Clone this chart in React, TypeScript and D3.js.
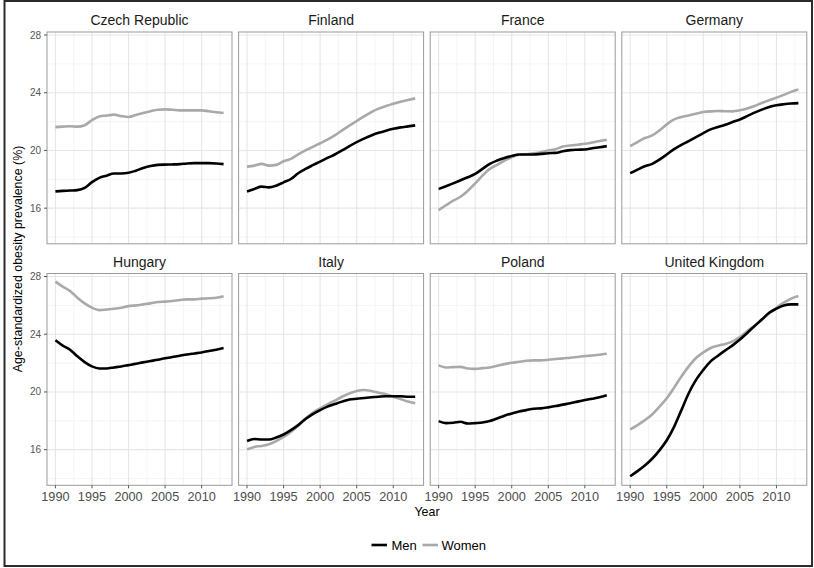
import React from "react";
import * as d3 from "d3";

const years = d3.range(1990, 2014);
const countries = ["Czech Republic", "Finland", "France", "Germany", "Hungary", "Italy", "Poland", "United Kingdom"];

const czechMen = [17.16, 17.2, 17.22, 17.25, 17.4, 17.8, 18.1, 18.25, 18.4, 18.4, 18.45, 18.6, 18.78, 18.92, 19.0, 19.02, 19.03, 19.05, 19.1, 19.12, 19.12, 19.12, 19.1, 19.05];
const czechWomen = [21.62, 21.65, 21.68, 21.65, 21.75, 22.1, 22.35, 22.42, 22.48, 22.38, 22.32, 22.45, 22.6, 22.72, 22.82, 22.85, 22.82, 22.78, 22.78, 22.78, 22.78, 22.72, 22.65, 22.6];
const finlandMen = [17.16, 17.33, 17.49, 17.44, 17.56, 17.79, 18.02, 18.42, 18.72, 18.98, 19.23, 19.48, 19.72, 20.0, 20.3, 20.58, 20.82, 21.04, 21.22, 21.37, 21.5, 21.6, 21.67, 21.74];
const finlandWomen = [18.88, 18.95, 19.07, 18.95, 19.0, 19.25, 19.42, 19.72, 20.0, 20.25, 20.5, 20.75, 21.04, 21.39, 21.72, 22.04, 22.36, 22.66, 22.9, 23.08, 23.24, 23.38, 23.5, 23.61];
const franceMen = [17.33, 17.52, 17.72, 17.93, 18.14, 18.37, 18.72, 19.07, 19.3, 19.48, 19.62, 19.72, 19.72, 19.72, 19.76, 19.81, 19.83, 19.95, 20.02, 20.05, 20.07, 20.15, 20.22, 20.3];
const franceWomen = [15.87, 16.2, 16.52, 16.79, 17.21, 17.72, 18.26, 18.72, 19.0, 19.3, 19.53, 19.7, 19.74, 19.8, 19.88, 20.0, 20.09, 20.27, 20.34, 20.4, 20.46, 20.55, 20.65, 20.74];
const germanyMen = [18.42, 18.67, 18.9, 19.07, 19.37, 19.72, 20.09, 20.39, 20.65, 20.92, 21.2, 21.46, 21.62, 21.78, 21.97, 22.15, 22.38, 22.62, 22.83, 23.01, 23.13, 23.2, 23.25, 23.28];
const germanyWomen = [20.3, 20.58, 20.86, 21.04, 21.39, 21.81, 22.15, 22.32, 22.43, 22.55, 22.66, 22.71, 22.73, 22.72, 22.71, 22.78, 22.9, 23.08, 23.29, 23.48, 23.66, 23.85, 24.06, 24.22];
const hungaryMen = [23.58, 23.21, 22.93, 22.47, 22.07, 21.77, 21.63, 21.63, 21.7, 21.77, 21.86, 21.95, 22.05, 22.14, 22.23, 22.33, 22.42, 22.51, 22.6, 22.67, 22.74, 22.84, 22.93, 23.05];
const hungaryWomen = [27.65, 27.3, 27.0, 26.53, 26.14, 25.84, 25.67, 25.72, 25.77, 25.84, 25.95, 26.0, 26.07, 26.14, 26.23, 26.26, 26.3, 26.37, 26.42, 26.42, 26.47, 26.49, 26.53, 26.63];
const italyMen = [16.6, 16.74, 16.7, 16.7, 16.84, 17.05, 17.35, 17.7, 18.12, 18.47, 18.74, 18.98, 19.16, 19.33, 19.47, 19.53, 19.58, 19.63, 19.67, 19.7, 19.7, 19.7, 19.67, 19.67];
const italyWomen = [16.02, 16.19, 16.26, 16.37, 16.6, 16.88, 17.23, 17.65, 18.16, 18.56, 18.86, 19.14, 19.4, 19.67, 19.9, 20.07, 20.14, 20.07, 19.95, 19.84, 19.67, 19.51, 19.33, 19.21];
const polandMen = [17.98, 17.84, 17.86, 17.93, 17.81, 17.84, 17.88, 17.98, 18.16, 18.35, 18.51, 18.65, 18.74, 18.84, 18.86, 18.93, 19.02, 19.12, 19.21, 19.33, 19.44, 19.53, 19.63, 19.77];
const polandWomen = [21.84, 21.7, 21.72, 21.74, 21.63, 21.6, 21.65, 21.7, 21.81, 21.93, 22.02, 22.09, 22.16, 22.19, 22.19, 22.23, 22.28, 22.33, 22.37, 22.42, 22.49, 22.53, 22.58, 22.65];
const ukMen = [14.16, 14.51, 14.9, 15.37, 15.95, 16.65, 17.58, 18.74, 19.91, 20.84, 21.53, 22.12, 22.51, 22.88, 23.23, 23.63, 24.09, 24.56, 25.02, 25.49, 25.77, 26.0, 26.07, 26.07];
const ukWomen = [17.4, 17.7, 18.05, 18.44, 18.98, 19.56, 20.3, 21.07, 21.77, 22.35, 22.74, 23.05, 23.21, 23.33, 23.51, 23.81, 24.21, 24.6, 25.02, 25.44, 25.84, 26.19, 26.47, 26.65];

const menSeries = [czechMen, finlandMen, franceMen, germanyMen, hungaryMen, italyMen, polandMen, ukMen];
const womenSeries = [czechWomen, finlandWomen, franceWomen, germanyWomen, hungaryWomen, italyWomen, polandWomen, ukWomen];

const xTicks = [1990, 1995, 2000, 2005, 2010];
const xMinor = [1992.5, 1997.5, 2002.5, 2007.5, 2012.5];
const yTicks = [16, 20, 24, 28];
const yMinor = [14, 18, 22, 26];
const seriesNames = ["Men", "Women"];

const W = 814;
const H = 568;
const FONT = "'Liberation Sans', Arial, sans-serif";
const MEN_COLOR = "#000000";
const WOMEN_COLOR = "#a9a9a9";

const panelLeft0 = 47;
const panelStep = 191.6;
const panelW = 185;
const panelTops = [32, 273.5];
const panelH = 211.8;

export default function App() {
  const x = d3.scaleLinear().domain([1988.85, 2014.15]).range([0, panelW]);
  const y = d3.scaleLinear().domain([13.53, 28.21]).range([panelH, 0]);
  const line = d3
    .line<number>()
    .x((_, i) => x(years[i]))
    .y((d) => y(d))
    .curve(d3.curveMonotoneX);

  return (
    <svg
      width={W}
      height={H}
      style={{ position: "absolute", left: 0, top: 0, background: "#fff" }}
      fontFamily={FONT}
    >
      <rect x={0} y={0} width={W} height={H} fill="#fff" />
      <rect x={4.5} y={1} width={807.5} height={565} fill="none" stroke="#2b2b2b" strokeWidth={2} />
      {countries.map((c, idx) => {
        const col = idx % 4;
        const row = Math.floor(idx / 4);
        const px = panelLeft0 + col * panelStep;
        const py = panelTops[row];
        return (
          <g key={c} transform={`translate(${px},${py})`}>
            <text
              x={panelW / 2}
              y={-7}
              textAnchor="middle"
              fontSize={14}
              fill="#1a1a1a"
            >
              {c}
            </text>
            {yMinor.map((t) => (
              <line key={"ym" + t} x1={0} x2={panelW} y1={y(t)} y2={y(t)} stroke="#f1f1f1" strokeWidth={0.8} />
            ))}
            {xMinor.map((t) => (
              <line key={"xm" + t} x1={x(t)} x2={x(t)} y1={0} y2={panelH} stroke="#f1f1f1" strokeWidth={0.8} />
            ))}
            {yTicks.map((t) => (
              <line key={"yg" + t} x1={0} x2={panelW} y1={y(t)} y2={y(t)} stroke="#e6e6e6" strokeWidth={1.1} />
            ))}
            {xTicks.map((t) => (
              <line key={"xg" + t} x1={x(t)} x2={x(t)} y1={0} y2={panelH} stroke="#e6e6e6" strokeWidth={1.1} />
            ))}
            <path d={line(womenSeries[idx]) || ""} fill="none" stroke={WOMEN_COLOR} strokeWidth={2.6} />
            <path d={line(menSeries[idx]) || ""} fill="none" stroke={MEN_COLOR} strokeWidth={2.6} />
            <rect x={0} y={0} width={panelW} height={panelH} fill="none" stroke="#9a9a9a" strokeWidth={1} />
            {col === 0 &&
              yTicks.map((t) => (
                <g key={"yt" + t}>
                  <line x1={-3} x2={0} y1={y(t)} y2={y(t)} stroke="#555" strokeWidth={1} />
                  <text x={-6} y={y(t)} dy="0.35em" textAnchor="end" fontSize={10} fill="#555">
                    {t}
                  </text>
                </g>
              ))}
            {row === 1 &&
              xTicks.map((t) => (
                <g key={"xt" + t}>
                  <line x1={x(t)} x2={x(t)} y1={panelH} y2={panelH + 3} stroke="#555" strokeWidth={1} />
                  <text x={x(t)} y={panelH + 16} textAnchor="middle" fontSize={12.7} fill="#4d4d4d">
                    {t}
                  </text>
                </g>
              ))}
          </g>
        );
      })}
      <text
        transform={`translate(22,259) rotate(-90)`}
        textAnchor="middle"
        fontSize={12.4}
        fill="#000"
      >
        Age-standardized obesity prevalence (%)
      </text>
      <text x={427} y={516} textAnchor="middle" fontSize={12.4} fill="#000">
        Year
      </text>
      <g>
        <line x1={371.5} x2={387} y1={545} y2={545} stroke={MEN_COLOR} strokeWidth={2.6} />
        <text x={391.5} y={549.5} fontSize={13} fill="#000">
          {seriesNames[0]}
        </text>
        <line x1={422.5} x2={438} y1={545} y2={545} stroke={WOMEN_COLOR} strokeWidth={2.6} />
        <text x={441.5} y={549.5} fontSize={13} fill="#000">
          {seriesNames[1]}
        </text>
      </g>
    </svg>
  );
}
